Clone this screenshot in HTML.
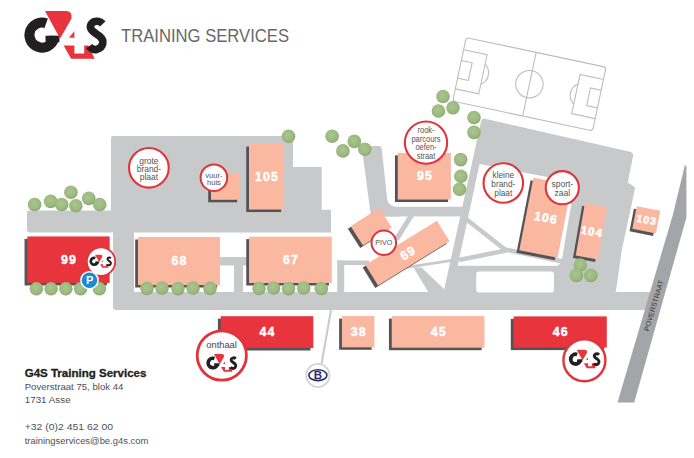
<!DOCTYPE html>
<html><head><meta charset="utf-8"><title>G4S Training Services</title>
<style>
html,body{margin:0;padding:0;background:#fff;width:694px;height:458px;overflow:hidden}
svg{display:block}
text{font-family:"Liberation Sans",sans-serif}
.bn{fill:#fff;font-weight:bold;text-anchor:middle;letter-spacing:1.1px;stroke:#fff;stroke-width:0.45px}
.ct{fill:#545456;text-anchor:middle}
</style></head><body>
<svg width="694" height="458" viewBox="0 0 694 458">
<defs><radialGradient id="tg" cx="45%" cy="42%" r="58%"><stop offset="0" stop-color="#abc68f"/><stop offset="0.7" stop-color="#9bb980"/><stop offset="1" stop-color="#8aa86f"/></radialGradient></defs>
<rect width="694" height="458" fill="#fff"/>
<g transform="rotate(12 529.4 84.2)" fill="none" stroke="#bdbdbf" stroke-width="1.1">
<rect x="457.9" y="51.7" width="143" height="65" rx="3"/>
<line x1="529.4" y1="51.7" x2="529.4" y2="116.7"/>
<circle cx="529.4" cy="84.2" r="13.7"/>
<path d="M 457.9 64.2 L 481.9 64.2 L 481.9 104.2 L 457.9 104.2"/>
<path d="M 457.9 75.2 L 468.9 75.2 L 468.9 93.2 L 457.9 93.2"/>
<path d="M 481.9 73.84 A 12.5 12.5 0 0 1 481.9 94.56"/>
<path d="M 600.9 64.2 L 576.9 64.2 L 576.9 104.2 L 600.9 104.2"/>
<path d="M 600.9 75.2 L 589.9 75.2 L 589.9 93.2 L 600.9 93.2"/>
<path d="M 576.9 73.84 A 12.5 12.5 0 0 0 576.9 94.56"/>
</g>
<g fill="#c8c9cb">
<path d="M 113 136 L 291 136 Q 293 136 293 138 L 293 167 L 321.7 167 L 321.7 209.7 L 331 209.7 L 331 232.5 L 30 232.5 Q 27 232.5 27 229.5 L 27 212.6 Q 27 210.6 29 210.6 L 111 210.6 L 111 138 Q 111 136 113 136 Z"/>
<path d="M 113 232 L 134 232 L 134 292 L 655 292 L 650 310 L 116 310 Q 113 310 113 307 Z"/>
<rect x="220" y="257" width="28" height="8.5"/>
<rect x="234" y="257" width="9" height="36"/>
<rect x="337.2" y="260.5" width="32" height="4.5"/>
<rect x="337.2" y="260.5" width="7" height="32"/>
<path d="M 405 266.2 L 452 259 L 452 261.8 L 405 269 Z"/>
<path d="M 413.5 267.5 L 421.5 267.5 L 441 286 L 447 292.5 L 428.5 292.5 Z"/>
<path d="M 365 146 L 379 146 Q 381.5 146 381.8 149 L 388 207 L 400 207 L 400 216.5 L 371 216.5 L 362 149 Q 362 146 365 146 Z"/>
<path d="M 386.2 197 Q 387.8 206.9 397 206.9 L 386 206.9 Z"/>
<rect x="380" y="206.8" width="85" height="9.6"/>
<path d="M 408 216 L 414 216 L 399 240 L 393 240 Z"/>
<path d="M 484 118.5 L 630 151.8 Q 633.5 152.6 633.1 156 L 627.8 182.6 L 635.2 187.5 L 621.8 250 L 617 284 Q 616.2 290 615.5 292.5 L 443.5 292.5 L 481.2 121 Q 482 118.5 484 118.5 Z"/>
</g>
<path d="M 479.6 164 L 575 182.3 L 561.5 262 L 558 265.7 L 457.7 265.7 Z" fill="#fff"/>
<rect x="476.2" y="271.6" width="77.8" height="21" rx="3" fill="#fff"/>
<g stroke="#c8c9cb" stroke-width="4.5" fill="none" stroke-linejoin="round">
<path d="M 466 219 L 505 249.5 L 565 262"/>
<path d="M 459 260 L 506 250.5"/>
</g>
<path d="M 685 164.8 L 686.4 166.5 L 686.4 217.5 L 634.2 402.6 L 617.5 402.6 L 672.8 215 Z" fill="#a4a5a8"/>
<text x="653.8" y="305.6" font-size="7.2" fill="#3a3a3a" text-anchor="middle" transform="rotate(-73.5 653.8 305.6)" font-family="Liberation Sans" dy="2.5">POVERSTRAAT</text>
<line x1="331" y1="310" x2="321.5" y2="364" stroke="#c8c9cb" stroke-width="2"/>
<rect x="249.00" y="144.05" width="35.00" height="65.50" fill="#555357" transform="translate(-2.8 2.5)"/>
<rect x="249.00" y="144.05" width="35.00" height="65.50" fill="#fab8a1"/>
<text x="267.10" y="181.08" class="bn" font-size="12.4">105</text>
<rect x="211.00" y="173.80" width="29.00" height="26.00" fill="#555357" transform="translate(-2.8 2.5)"/>
<rect x="211.00" y="173.80" width="29.00" height="26.00" fill="#fab8a1"/>
<rect x="27.35" y="236.45" width="82.30" height="46.50" fill="#555357" transform="translate(-2.8 2.5)"/>
<rect x="27.35" y="236.45" width="82.30" height="46.50" fill="#e8343d"/>
<text x="69.10" y="263.98" class="bn" font-size="12.4">99</text>
<rect x="138.00" y="237.00" width="82.00" height="48.00" fill="#555357" transform="translate(-2.8 2.5)"/>
<rect x="138.00" y="237.00" width="82.00" height="48.00" fill="#fab8a1"/>
<text x="179.60" y="265.28" class="bn" font-size="12.4">68</text>
<rect x="249.05" y="236.60" width="82.70" height="46.40" fill="#555357" transform="translate(-2.8 2.5)"/>
<rect x="249.05" y="236.60" width="82.70" height="46.40" fill="#fab8a1"/>
<text x="291.00" y="264.08" class="bn" font-size="12.4">67</text>
<rect x="397.75" y="152.85" width="53.10" height="46.70" fill="#555357" transform="translate(-2.8 2.5)"/>
<rect x="397.75" y="152.85" width="53.10" height="46.70" fill="#fab8a1"/>
<text x="424.90" y="180.48" class="bn" font-size="12.4">95</text>
<rect x="354.20" y="215.30" width="34.00" height="23.00" fill="#555357" transform="translate(-2.8 2.5) rotate(-32.4 371.2 226.8)"/>
<rect x="354.20" y="215.30" width="34.00" height="23.00" fill="#fab8a1" transform="rotate(-32.4 371.2 226.8)"/>
<rect x="365.50" y="241.10" width="84.00" height="24.00" fill="#555357" transform="translate(-2.8 2.5) rotate(-31.7 407.5 253.1)"/>
<rect x="365.50" y="241.10" width="84.00" height="24.00" fill="#fab8a1" transform="rotate(-31.7 407.5 253.1)"/>
<text x="408.10" y="257.38" class="bn" font-size="12.4" transform="rotate(-31.7 407.5 253.1)">69</text>
<rect x="526.00" y="180.70" width="39.00" height="74.00" fill="#555357" transform="translate(-2.8 2.5) rotate(11 545.5 217.7)"/>
<rect x="526.00" y="180.70" width="39.00" height="74.00" fill="#fab8a1" transform="rotate(11 545.5 217.7)"/>
<text x="546.10" y="221.98" class="bn" font-size="12.4" transform="rotate(11 545.5 217.7)">106</text>
<rect x="580.15" y="204.90" width="22.50" height="53.00" fill="#555357" transform="translate(-2.8 2.5) rotate(10 591.4 231.4)"/>
<rect x="580.15" y="204.90" width="22.50" height="53.00" fill="#fab8a1" transform="rotate(10 591.4 231.4)"/>
<text x="592.00" y="235.37" class="bn" font-size="11.5" transform="rotate(10 591.4 231.4)">104</text>
<rect x="634.30" y="208.30" width="24.00" height="23.00" fill="#555357" transform="translate(-2.8 2.5) rotate(11 646.3 219.8)"/>
<rect x="634.30" y="208.30" width="24.00" height="23.00" fill="#fab8a1" transform="rotate(11 646.3 219.8)"/>
<text x="646.90" y="223.42" class="bn" font-size="10.5" transform="rotate(11 646.3 219.8)">103</text>
<rect x="220.70" y="316.20" width="92.60" height="31.80" fill="#555357" transform="translate(-2.8 2.5)"/>
<rect x="220.70" y="316.20" width="92.60" height="31.80" fill="#e8343d"/>
<text x="267.60" y="336.38" class="bn" font-size="12.4">44</text>
<rect x="341.95" y="316.10" width="32.50" height="31.20" fill="#555357" transform="translate(-2.8 2.5)"/>
<rect x="341.95" y="316.10" width="32.50" height="31.20" fill="#fab8a1"/>
<text x="358.80" y="335.98" class="bn" font-size="12.4">38</text>
<rect x="391.75" y="316.10" width="92.70" height="31.60" fill="#555357" transform="translate(-2.8 2.5)"/>
<rect x="391.75" y="316.10" width="92.70" height="31.60" fill="#fab8a1"/>
<text x="438.70" y="336.18" class="bn" font-size="12.4">45</text>
<rect x="513.60" y="316.40" width="93.20" height="31.20" fill="#555357" transform="translate(-2.8 2.5)"/>
<rect x="513.60" y="316.40" width="93.20" height="31.20" fill="#e8343d"/>
<text x="560.80" y="336.28" class="bn" font-size="12.4">46</text>
<circle cx="34.6" cy="204.5" r="6.8" fill="url(#tg)"/>
<circle cx="50.7" cy="201.4" r="6.8" fill="url(#tg)"/>
<circle cx="61.7" cy="204.5" r="6.8" fill="url(#tg)"/>
<circle cx="70.9" cy="192.2" r="6.8" fill="url(#tg)"/>
<circle cx="75.8" cy="205.7" r="6.8" fill="url(#tg)"/>
<circle cx="88.7" cy="198.4" r="6.8" fill="url(#tg)"/>
<circle cx="99.7" cy="204.5" r="6.8" fill="url(#tg)"/>
<circle cx="36.4" cy="288.8" r="6.8" fill="url(#tg)"/>
<circle cx="51.1" cy="288.8" r="6.8" fill="url(#tg)"/>
<circle cx="65.8" cy="288.8" r="6.8" fill="url(#tg)"/>
<circle cx="80.6" cy="288.8" r="6.8" fill="url(#tg)"/>
<circle cx="99.4" cy="288.8" r="6.8" fill="url(#tg)"/>
<circle cx="147" cy="288.4" r="6.8" fill="url(#tg)"/>
<circle cx="162" cy="288" r="6.8" fill="url(#tg)"/>
<circle cx="178" cy="288.6" r="6.8" fill="url(#tg)"/>
<circle cx="193" cy="288" r="6.8" fill="url(#tg)"/>
<circle cx="210" cy="288.4" r="6.8" fill="url(#tg)"/>
<circle cx="259" cy="288.5" r="6.8" fill="url(#tg)"/>
<circle cx="273.6" cy="288" r="6.8" fill="url(#tg)"/>
<circle cx="288.5" cy="288.6" r="6.8" fill="url(#tg)"/>
<circle cx="303.7" cy="288" r="6.8" fill="url(#tg)"/>
<circle cx="321.3" cy="288.5" r="6.8" fill="url(#tg)"/>
<circle cx="288.5" cy="136.2" r="6.8" fill="url(#tg)"/>
<circle cx="332.1" cy="136.2" r="6.8" fill="url(#tg)"/>
<circle cx="342.9" cy="150.9" r="6.8" fill="url(#tg)"/>
<circle cx="354.3" cy="141.4" r="6.8" fill="url(#tg)"/>
<circle cx="364.8" cy="149.3" r="6.8" fill="url(#tg)"/>
<circle cx="443" cy="96.5" r="6.8" fill="url(#tg)"/>
<circle cx="438.4" cy="111" r="6.8" fill="url(#tg)"/>
<circle cx="453" cy="107.8" r="6.8" fill="url(#tg)"/>
<circle cx="474" cy="117.5" r="6.8" fill="url(#tg)"/>
<circle cx="474" cy="132.4" r="6.8" fill="url(#tg)"/>
<circle cx="460.6" cy="159.6" r="6.8" fill="url(#tg)"/>
<circle cx="460.9" cy="176.2" r="6.8" fill="url(#tg)"/>
<circle cx="459.5" cy="189.2" r="6.8" fill="url(#tg)"/>
<circle cx="580.3" cy="265" r="6.8" fill="url(#tg)"/>
<circle cx="576.4" cy="275.4" r="6.8" fill="url(#tg)"/>
<circle cx="590.8" cy="275.4" r="6.8" fill="url(#tg)"/>
<circle cx="148.9" cy="167.8" r="19.85" fill="#fff" stroke="#df343c" stroke-width="2.1"/>
<g transform="translate(148.9 0) scale(0.92 1)">
<text x="0" y="163.90" class="ct" font-size="9.2">grote</text>
<text x="0" y="171.90" class="ct" font-size="9.2">brand-</text>
<text x="0" y="179.90" class="ct" font-size="9.2">plaat</text>
</g>
<circle cx="213.9" cy="177.7" r="13.30" fill="#fff" stroke="#df343c" stroke-width="2.0"/>
<g transform="translate(213.9 0) scale(0.95 1)">
<text x="0" y="178.20" class="ct" font-size="8.0">vuur-</text>
<text x="0" y="185.00" class="ct" font-size="8.0">huis</text>
</g>
<circle cx="426" cy="142.6" r="21.15" fill="#fff" stroke="#df343c" stroke-width="2.1"/>
<g transform="translate(426 0) scale(0.86 1)">
<text x="0" y="132.80" class="ct" font-size="8.7">rook-</text>
<text x="0" y="141.60" class="ct" font-size="8.7">parcours</text>
<text x="0" y="150.40" class="ct" font-size="8.7">oefen-</text>
<text x="0" y="159.20" class="ct" font-size="8.7">straat</text>
</g>
<circle cx="503.3" cy="183" r="19.75" fill="#fff" stroke="#df343c" stroke-width="2.1"/>
<g transform="translate(503.3 0) scale(0.94 1)">
<text x="0" y="178.00" class="ct" font-size="8.8">kleine</text>
<text x="0" y="186.90" class="ct" font-size="8.8">brand-</text>
<text x="0" y="195.80" class="ct" font-size="8.8">plaat</text>
</g>
<circle cx="562.3" cy="187.7" r="16.55" fill="#fff" stroke="#df343c" stroke-width="2.1"/>
<g transform="translate(562.3 0) scale(0.97 1)">
<text x="0" y="187.30" class="ct" font-size="8.8">sport-</text>
<text x="0" y="196.10" class="ct" font-size="8.8">zaal</text>
</g>
<circle cx="383.8" cy="242.8" r="12.30" fill="#fff" stroke="#df343c" stroke-width="2.0"/>
<g transform="translate(383.8 0) scale(0.89 1)">
<text x="0" y="245.20" class="ct" font-size="8.1">PIVO</text>
</g>
<circle cx="101" cy="261.6" r="14.2" fill="#fff" stroke="#df343c" stroke-width="1.8"/>
<g transform="translate(82.78 251.70) scale(0.273)">
<path d="M 59.6 35.7 A 17.6 17.6 0 1 1 47.85 18.5 L 44.5 27.9 A 7.6 7.6 0 1 0 49.6 35.4 Z M 45.5 35.8 L 59.6 35.8 L 59.4 42.3 L 45.5 42.3 Z" fill="#231f20"/>
<path d="M 45 11 L 66 11 Q 72.5 11 71.5 18.5 L 60.6 37.7 L 59.6 37.7 Z" fill="#e8343d"/>
<path d="M 69 37.7 L 74.4 31 L 74.4 37.7 Z" fill="#e8343d"/>
<path d="M 63.6 45.6 L 74.4 45.6 L 74.4 53.5 L 84.2 53.5 L 84.2 45.6 L 88.2 45.6 L 94.7 58.7 L 71.1 58.7 Z" fill="#e8343d"/>
<path d="M 102.8 23.8 C 99.5 20.3, 92.5 19.8, 90.6 25.5 C 89.2 30.5, 96.5 33.5, 100.3 36.8 C 104.2 40.2, 104 47.2, 97 49.3 C 94 50.2, 91 48.8, 89.2 46.2" fill="none" stroke="#231f20" stroke-width="7.6"/>
</g>
<circle cx="221.8" cy="355.5" r="24.6" fill="#fff" stroke="#df343c" stroke-width="2.8"/>
<text x="221.6" y="348.2" class="ct" font-size="9.3" style="fill:#444446">onthaal</text>
<g transform="translate(197.16 349.85) scale(0.375)">
<path d="M 59.6 35.7 A 17.6 17.6 0 1 1 47.85 18.5 L 44.5 27.9 A 7.6 7.6 0 1 0 49.6 35.4 Z M 45.5 35.8 L 59.6 35.8 L 59.4 42.3 L 45.5 42.3 Z" fill="#231f20"/>
<path d="M 45 11 L 66 11 Q 72.5 11 71.5 18.5 L 60.6 37.7 L 59.6 37.7 Z" fill="#e8343d"/>
<path d="M 69 37.7 L 74.4 31 L 74.4 37.7 Z" fill="#e8343d"/>
<path d="M 63.6 45.6 L 74.4 45.6 L 74.4 53.5 L 84.2 53.5 L 84.2 45.6 L 88.2 45.6 L 94.7 58.7 L 71.1 58.7 Z" fill="#e8343d"/>
<path d="M 102.8 23.8 C 99.5 20.3, 92.5 19.8, 90.6 25.5 C 89.2 30.5, 96.5 33.5, 100.3 36.8 C 104.2 40.2, 104 47.2, 97 49.3 C 94 50.2, 91 48.8, 89.2 46.2" fill="none" stroke="#231f20" stroke-width="7.6"/>
</g>
<circle cx="584.4" cy="360.3" r="21" fill="#fff" stroke="#df343c" stroke-width="2.4"/>
<g transform="translate(559.41 345.60) scale(0.385)">
<path d="M 59.6 35.7 A 17.6 17.6 0 1 1 47.85 18.5 L 44.5 27.9 A 7.6 7.6 0 1 0 49.6 35.4 Z M 45.5 35.8 L 59.6 35.8 L 59.4 42.3 L 45.5 42.3 Z" fill="#231f20"/>
<path d="M 45 11 L 66 11 Q 72.5 11 71.5 18.5 L 60.6 37.7 L 59.6 37.7 Z" fill="#e8343d"/>
<path d="M 69 37.7 L 74.4 31 L 74.4 37.7 Z" fill="#e8343d"/>
<path d="M 63.6 45.6 L 74.4 45.6 L 74.4 53.5 L 84.2 53.5 L 84.2 45.6 L 88.2 45.6 L 94.7 58.7 L 71.1 58.7 Z" fill="#e8343d"/>
<path d="M 102.8 23.8 C 99.5 20.3, 92.5 19.8, 90.6 25.5 C 89.2 30.5, 96.5 33.5, 100.3 36.8 C 104.2 40.2, 104 47.2, 97 49.3 C 94 50.2, 91 48.8, 89.2 46.2" fill="none" stroke="#231f20" stroke-width="7.6"/>
</g>
<circle cx="89.5" cy="280.2" r="9.3" fill="#fff"/>
<circle cx="89.5" cy="280.2" r="7.8" fill="#1b8bd0"/>
<text x="89.7" y="284" font-family="Liberation Sans" font-weight="bold" font-size="11" fill="#fff" text-anchor="middle">P</text>
<circle cx="317.9" cy="375.5" r="11.6" fill="#fff" stroke="#d2d3d5" stroke-width="1.8"/>
<ellipse cx="317.9" cy="375.2" rx="9" ry="5.4" fill="none" stroke="#2b2d6b" stroke-width="1.6"/>
<text x="318" y="379" font-family="Liberation Serif" font-weight="bold" font-size="11.5" fill="#2b2d6b" text-anchor="middle">B</text>
<g>
<path d="M 59.6 35.7 A 17.6 17.6 0 1 1 47.85 18.5 L 44.5 27.9 A 7.6 7.6 0 1 0 49.6 35.4 Z M 45.5 35.8 L 59.6 35.8 L 59.4 42.3 L 45.5 42.3 Z" fill="#231f20"/>
<path d="M 45 11 L 66 11 Q 72.5 11 71.5 18.5 L 60.6 37.7 L 59.6 37.7 Z" fill="#e8343d"/>
<path d="M 69 37.7 L 74.4 31 L 74.4 37.7 Z" fill="#e8343d"/>
<path d="M 63.6 45.6 L 74.4 45.6 L 74.4 53.5 L 84.2 53.5 L 84.2 45.6 L 88.2 45.6 L 94.7 58.7 L 71.1 58.7 Z" fill="#e8343d"/>
<path d="M 102.8 23.8 C 99.5 20.3, 92.5 19.8, 90.6 25.5 C 89.2 30.5, 96.5 33.5, 100.3 36.8 C 104.2 40.2, 104 47.2, 97 49.3 C 94 50.2, 91 48.8, 89.2 46.2" fill="none" stroke="#231f20" stroke-width="7.6"/>
</g>
<text x="121" y="42.4" font-family="Liberation Sans" font-size="19" fill="#68686a" textLength="168" lengthAdjust="spacingAndGlyphs">TRAINING SERVICES</text>
<text x="24.7" y="376.9" font-family="Liberation Sans" font-weight="bold" font-size="10.4" fill="#231f20" stroke="#231f20" stroke-width="0.3" textLength="121.7" lengthAdjust="spacingAndGlyphs">G4S Training Services</text>
<text x="24.7" y="389.6" font-family="Liberation Sans" font-size="9.6" fill="#505052" textLength="98.7" lengthAdjust="spacingAndGlyphs">Poverstraat 75, blok 44</text>
<text x="24.7" y="403.4" font-family="Liberation Sans" font-size="9.6" fill="#505052" textLength="46" lengthAdjust="spacingAndGlyphs">1731 Asse</text>
<text x="24.7" y="430" font-family="Liberation Sans" font-size="9.6" fill="#505052" textLength="88.5" lengthAdjust="spacingAndGlyphs">+32 (0)2 451 62 00</text>
<text x="24.7" y="443.8" font-family="Liberation Sans" font-size="9.6" fill="#505052" textLength="123.6" lengthAdjust="spacingAndGlyphs">trainingservices@be.g4s.com</text>
</svg>
</body></html>
